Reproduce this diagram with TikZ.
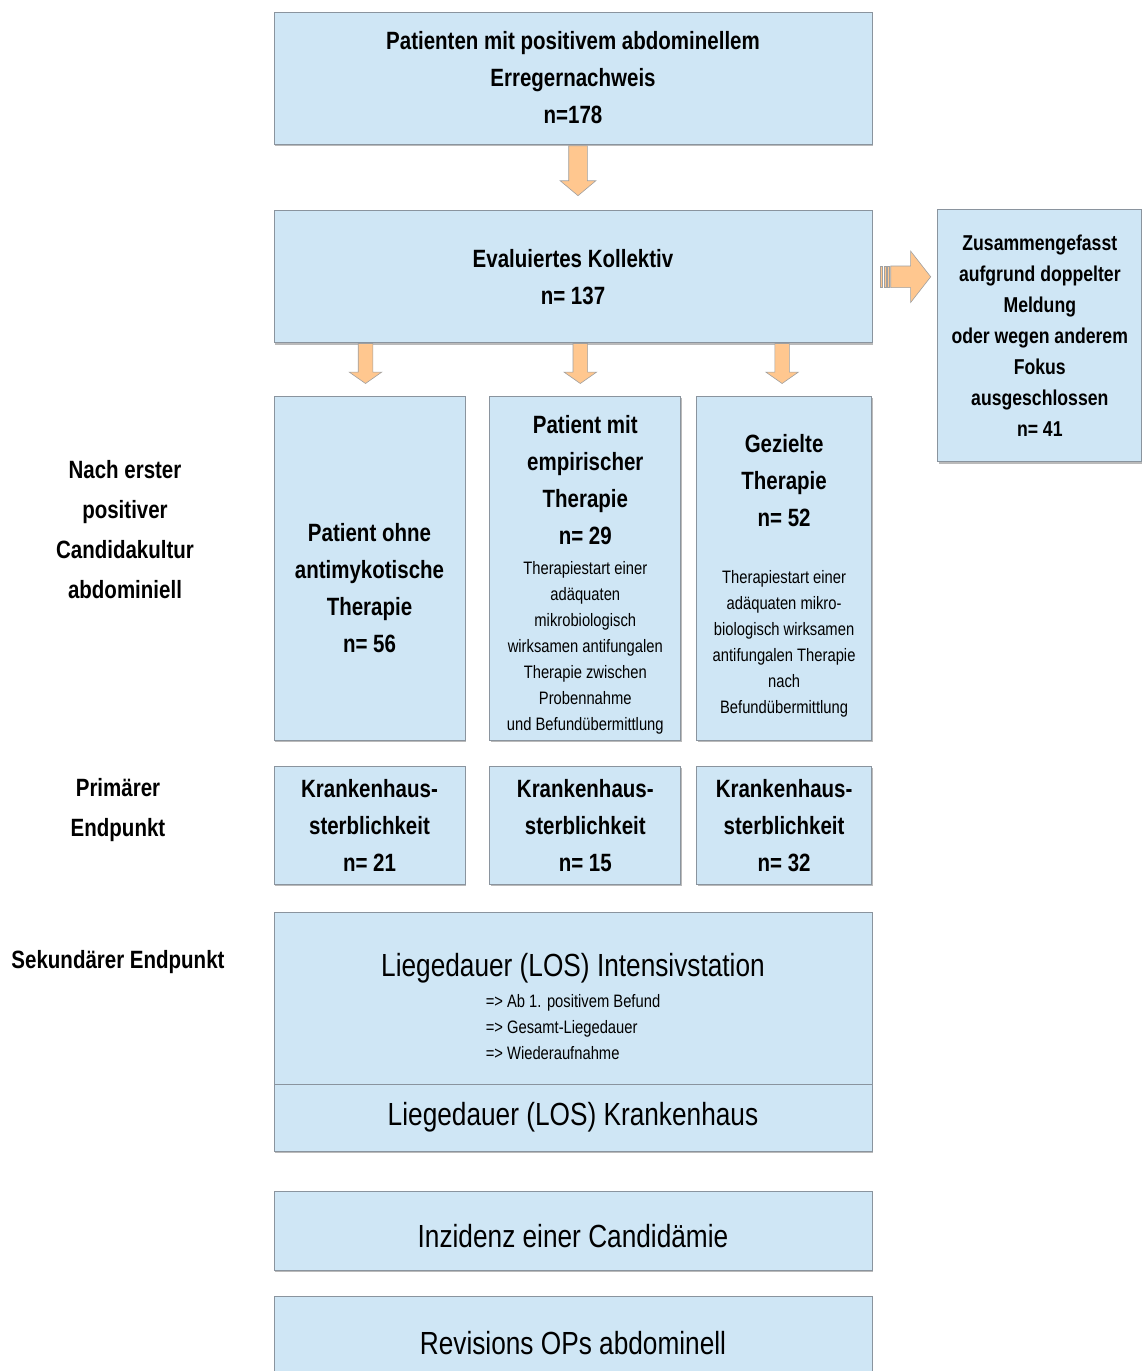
\documentclass[tikz,border=0pt]{standalone}
\usepackage{fontspec}
\setmainfont{Liberation Sans}[FakeStretch=0.82]
\usetikzlibrary{positioning,shapes.arrows,shadows}
\definecolor{boxfill}{RGB}{207,230,245}
\definecolor{boxline}{RGB}{138,148,158}
\definecolor{arrowfill}{RGB}{255,199,143}
\definecolor{arrowline}{RGB}{160,160,160}
\newcommand\hdfont{\fontsize{25}{37}\selectfont\bfseries}
\newcommand\lblfont{\fontsize{25}{40}\selectfont\bfseries}
\newcommand\exfont{\fontsize{21.5}{31}\selectfont\bfseries}
\newcommand\lgfont{\fontsize{32}{36}\selectfont}
\newcommand\smblock[2][c]{{\fontsize{18}{26}\selectfont\mdseries\begin{tabular}[t]{@{}#1@{}}#2\end{tabular}}}
\newcommand\topgap[1]{\rule{0pt}{#1}}
\tikzset{
    %Define style for the blue boxes
    box/.style={draw=boxline, fill=boxfill, line width=0.8pt, inner sep=0pt, align=center,
        drop shadow={shadow xshift=1.2pt, shadow yshift=-1.8pt, fill=black!45, opacity=0.6}},
    widebox/.style={box, minimum width=598pt},
    colbox/.style={box, minimum width=191pt, minimum height=344pt},
    rowbox/.style={box, minimum width=191pt, minimum height=118pt},
    %Define style for the block arrows
    blockarrow/.style={single arrow, draw=arrowline, fill=arrowfill, line width=0.6pt,
        inner xsep=0pt, anchor=tail},
    downarrow/.style={blockarrow, rotate=-90},
}

\begin{document}
\begin{tikzpicture}[x=1pt,y=-1pt]
    \useasboundingbox (0,0) rectangle (1142,1371);

    \node[widebox, minimum height=132pt, font=\hdfont] (patients) at (573,78)
        {Patienten mit positivem abdominellem\\Erregernachweis\\n=178};
    \node[widebox, minimum height=132pt, font=\hdfont, below=66pt of patients] (evaluated)
        {Evaluiertes Kollektiv\\n= 137};
    \node[box, minimum width=204pt, minimum height=252pt, font=\exfont,
        below right=-1pt and 65pt of evaluated.north east] (excluded)
        {Zusammengefasst\\aufgrund doppelter\\Meldung\\oder wegen anderem\\Fokus\\ausgeschlossen\\n= 41};

    \node[colbox, below right=53pt and 0pt of evaluated.south west] (noanti) {};
    \node[font=\hdfont, align=center] (noantitext) at ([yshift=-19pt]noanti.center)
        {Patient ohne\\antimykotische\\Therapie\\n= 56};
    \node[colbox, right=24pt of noanti, font=\hdfont] (empiric)
        {\topgap{35pt}Patient mit\\empirischer\\Therapie\\n= 29\\[-7.5pt]\smblock{Therapiestart einer\\ad\"aquaten\\mikrobiologisch\\wirksamen antifungalen\\Therapie zwischen\\Probennahme\\und Befund\"ubermittlung}};
    \node[colbox, minimum width=175pt, right=15pt of empiric, font=\hdfont] (targeted)
        {\topgap{37pt}Gezielte\\Therapie\\n= 52\\[19.5pt]\smblock{Therapiestart einer\\ad\"aquaten mikro-\\biologisch wirksamen\\antifungalen Therapie\\nach\\Befund\"ubermittlung}};

    \node[rowbox, below=25pt of noanti, font=\hdfont] (mortnoanti) {Krankenhaus-\\sterblichkeit\\n= 21};
    \node[rowbox, below=25pt of empiric, font=\hdfont] (mortempiric) {Krankenhaus-\\sterblichkeit\\n= 15};
    \node[rowbox, minimum width=175pt, below=25pt of targeted, font=\hdfont] (morttargeted) {Krankenhaus-\\sterblichkeit\\n= 32};

    \node[widebox, minimum height=172pt, font=\lgfont, below right=27pt and 0pt of mortnoanti.south west] (losicu)
        {\topgap{47pt}Liegedauer (LOS) Intensivstation\\[-5pt]\smblock[l]{=> Ab 1. positivem Befund\\=> Gesamt-Liegedauer\\=> Wiederaufnahme}};
    \node[widebox, minimum height=67pt, font=\lgfont, below=-0.8pt of losicu] (loshosp) {Liegedauer (LOS) Krankenhaus};
    \node[widebox, minimum height=79pt, font=\lgfont, below=39pt of loshosp] (candidemia) {\topgap{35pt}Inzidenz einer Candid\"amie};
    \node[widebox, minimum height=80pt, font=\lgfont, below=26pt of candidemia] (revision) {\topgap{35pt}Revisions OPs abdominell};

    \node[font=\lblfont, align=center] (afterculture) at (125,530) {Nach erster\\positiver\\Candidakultur\\abdominiell};
    \node[font=\lblfont, align=center] (primary) at (118,810) {Prim\"arer\\Endpunkt};
    \node[font=\hdfont] (secondary) at (118,962) {Sekund\"arer Endpunkt};

    % block arrows
    \node[downarrow, inner ysep=9pt, single arrow head extend=8.5pt, single arrow tip angle=100,
        minimum height=50pt] (arrtop) at ([xshift=5pt,yshift=-1pt]patients.south) {};
    \foreach \col/\dx in {noanti/-4, empiric/-5, targeted/-2}
        \node[downarrow, inner ysep=7pt, single arrow head extend=9pt, single arrow tip angle=110,
            minimum height=40pt] (arr\col) at ([xshift=\dx pt]evaluated.south -| \col) {};
    \node[blockarrow, inner ysep=10.5pt, single arrow head extend=15pt, single arrow tip angle=104,
        minimum height=40pt] (arrexcl) at ([xshift=18pt]evaluated.east) {};
    \foreach \dx in {-10,-6.5,-3}
        \filldraw[fill=arrowfill, draw=arrowline, line width=0.6pt]
            ([xshift=\dx pt, yshift=10.5pt]arrexcl.tail) rectangle ++(2pt,-21pt);
\end{tikzpicture}
\end{document}
